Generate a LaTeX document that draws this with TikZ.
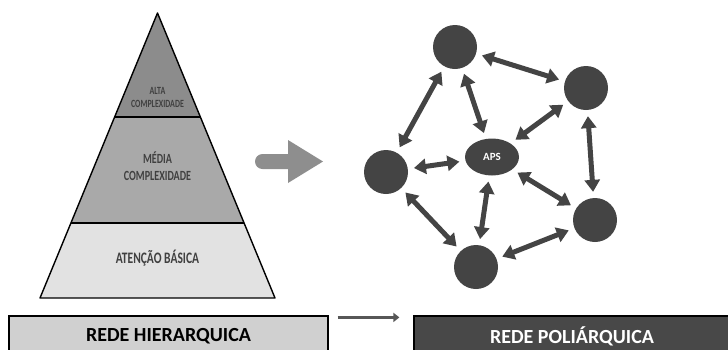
\documentclass[tikz,border=0pt]{standalone}
\usepackage{fontspec}
\setmainfont{Carlito}
\newfontfamily\narrowfont[FakeStretch=0.72]{Carlito}
\usetikzlibrary{shapes.geometric, arrows.meta}

\definecolor{topgrey}{HTML}{8C8C8C}
\definecolor{midgrey}{HTML}{A9A9A9}
\definecolor{basegrey}{HTML}{E2E2E2}
\definecolor{textgrey}{HTML}{404040}
\definecolor{netgrey}{HTML}{444444}
\definecolor{blockgrey}{HTML}{8E8E8E}
\definecolor{boxgrey}{HTML}{D0D0D0}
\definecolor{boxdark}{HTML}{484848}

\begin{document}
\begin{tikzpicture}[x=1pt, y=-1pt,
    level/.style={text=textgrey, align=center, inner sep=0pt},
    hub/.style={circle, fill=netgrey, minimum size=44pt, inner sep=0pt},
    link/.style={draw=netgrey, line width=5pt,
        {Triangle[length=12pt,width=15pt]}-{Triangle[length=12pt,width=15pt]},
        shorten <=6pt, shorten >=6pt},
    labelbox/.style={draw=black, line width=1.2pt, minimum height=40pt,
        inner sep=0pt, font=\bfseries\fontsize{20}{23}\selectfont}]
    \useasboundingbox (0, 0) rectangle (728, 349);

    \fill [basegrey] (40, 298) -- (275, 298) -- (157.5, 13) -- cycle;
    \fill [midgrey] (70.9, 223) -- (244.1, 223) -- (157.5, 13) -- cycle;
    \fill [topgrey] (114.6, 117) -- (200.4, 117) -- (157.5, 13) -- cycle;
    \draw [line width=1.4pt] (114.6, 117) -- (200.4, 117);
    \draw [line width=1.4pt] (70.9, 223) -- (244.1, 223);
    \draw [line width=1.4pt, line join=round] (40, 298) -- (275, 298) -- (157.5, 13) -- cycle;

    \node [level, font=\narrowfont\bfseries\fontsize{11}{13}\selectfont] (alta) at (157.5, 97)
        {ALTA\\COMPLEXIDADE};
    \node [level, font=\narrowfont\bfseries\fontsize{14}{16.5}\selectfont] (media) at (157.5, 166)
        {MÉDIA\\COMPLEXIDADE};
    \node [level, font=\narrowfont\bfseries\fontsize{16}{18}\selectfont] (basica) at (157.5, 258)
        {ATENÇÃO BÁSICA};

    \fill [blockgrey] (288, 154) -- (288, 140) -- (323, 161.5) -- (288, 183)
        -- (288, 169) -- (262.5, 169) arc (90:270:7.5) -- cycle;

    \node [hub] (north) at (455, 47) {};
    \node [hub] (northeast) at (586, 88) {};
    \node [hub] (west) at (386, 172) {};
    \node [hub] (southeast) at (595, 220) {};
    \node [hub] (south) at (476, 267) {};
    \node [ellipse, fill=netgrey, minimum width=54pt, minimum height=37pt, inner sep=0pt,
        text=white, font=\bfseries\fontsize{11}{13}\selectfont] (aps) at (492, 157) {APS};

    \draw [link] (north) -- (northeast);
    \draw [link] (north) -- (west);
    \draw [link] (north) -- (aps);
    \draw [link] (northeast) -- (aps);
    \draw [link] (northeast) -- (southeast);
    \draw [link] (west) -- (aps);
    \draw [link] (west) -- (south);
    \draw [link] (aps) -- (south);
    \draw [link] (aps) -- (southeast);
    \draw [link] (south) -- (southeast);

    \node [labelbox, fill=boxgrey, minimum width=319pt] (hier) at (168.5, 336) {REDE HIERARQUICA};
    \node [labelbox, fill=boxdark, text=white, minimum width=316pt] (poli) at (572, 336) {REDE POLIÁRQUICA};

    \draw [draw=netgrey!90, line width=3.5pt, -{Triangle[length=6pt,width=9pt]}]
        ([xshift=9pt, yshift=-2pt] hier.north east) -- ([xshift=-14pt, yshift=-2pt] poli.north west);
\end{tikzpicture}
\end{document}
